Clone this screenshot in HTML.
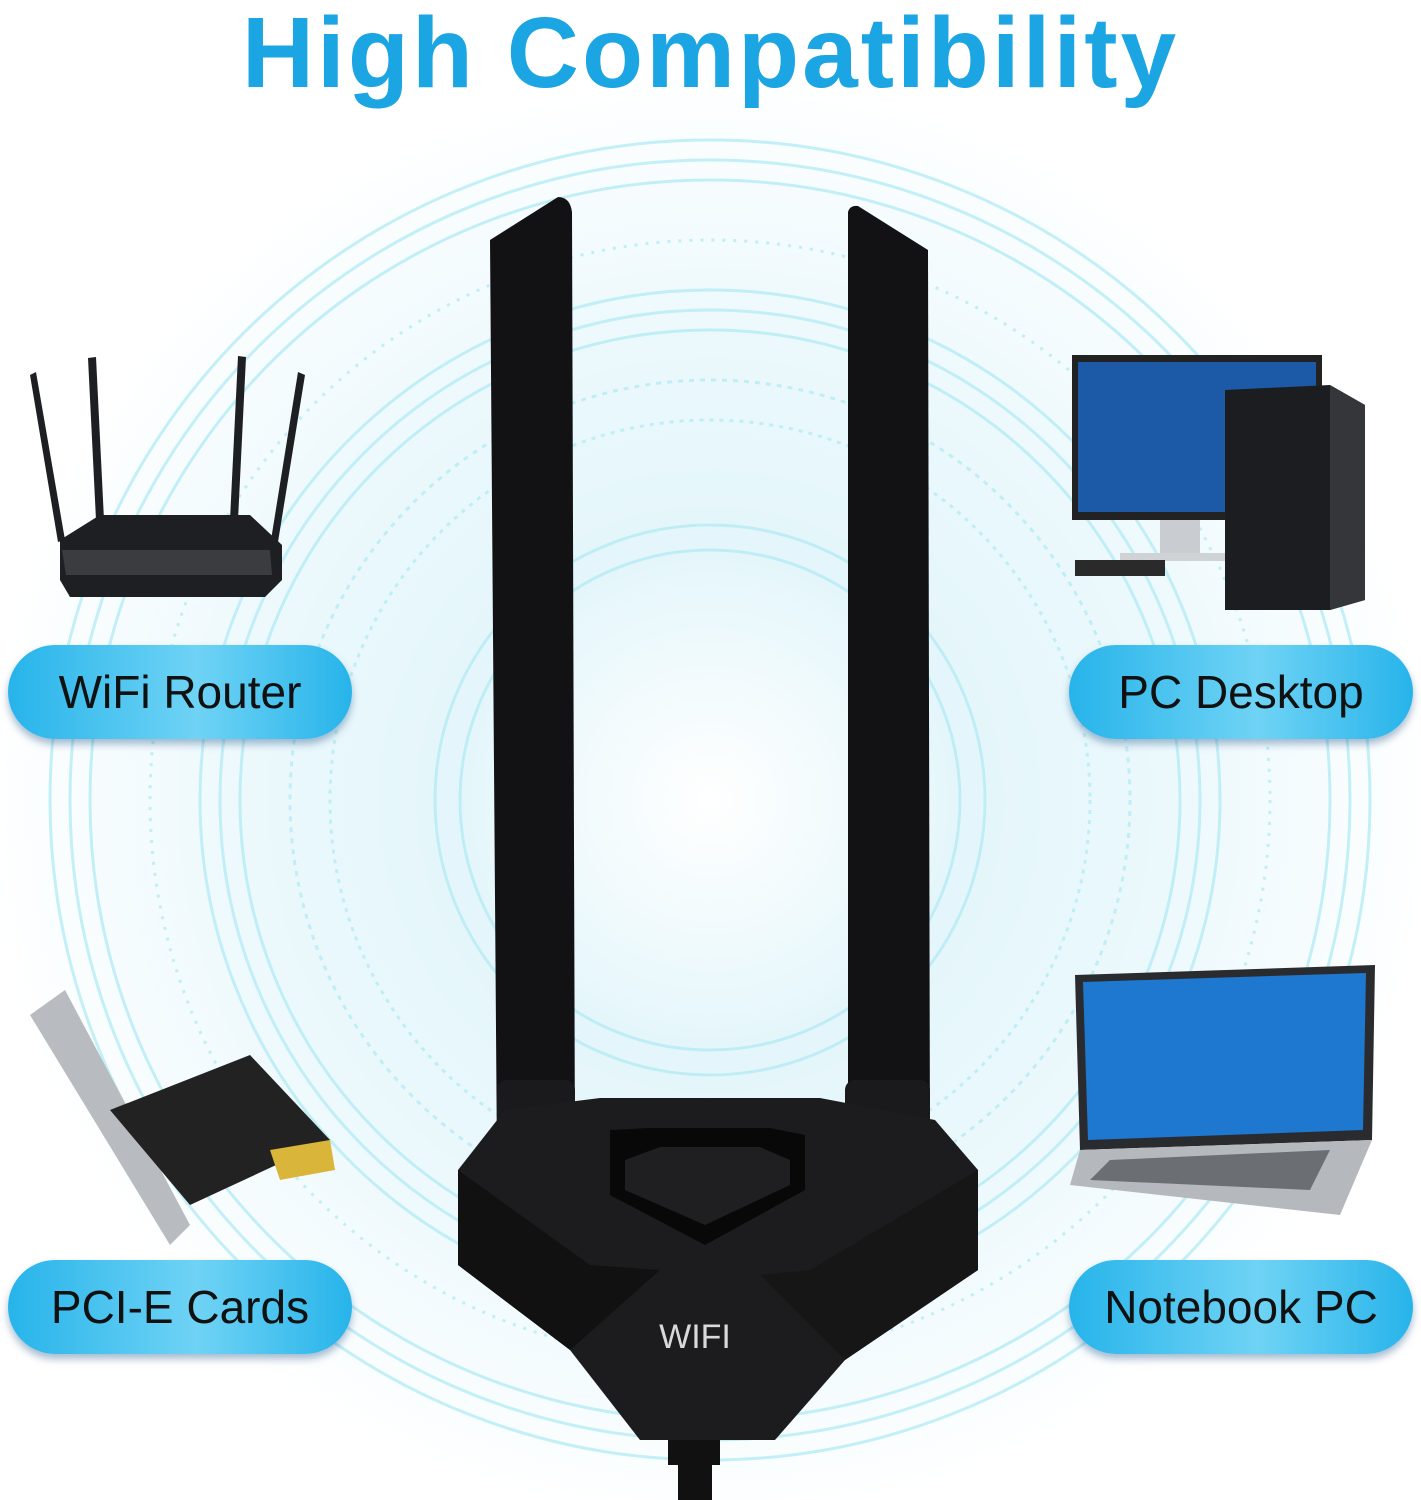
<!DOCTYPE html>
<html><head><meta charset="utf-8"><style>
html,body{margin:0;padding:0;background:#fff}
body{width:1421px;height:1500px;overflow:hidden;position:relative;font-family:"Liberation Sans",sans-serif}
svg{position:absolute;left:0;top:0}
.t{position:absolute;left:0;width:1421px;top:-4px;text-align:center;font-weight:bold;font-size:100px;color:#1ba5e2;letter-spacing:3px}
.pill{position:absolute;width:344px;height:94px;border-radius:47px;background:linear-gradient(90deg,#27b4ea,#6fd3f5 55%,#27b4ea);box-shadow:0 5px 8px rgba(0,60,120,.35);font-size:46px;line-height:94px;text-align:center;color:#111}
</style></head><body>
<svg width="1421" height="1500" viewBox="0 0 1421 1500">
<defs>
<radialGradient id="rg" cx="710" cy="800" r="720" gradientUnits="userSpaceOnUse">
<stop offset="0" stop-color="#fff"/>
<stop offset="0.35" stop-color="#e4f6fb"/>
<stop offset="0.6" stop-color="#eaf8fc"/>
<stop offset="0.85" stop-color="#f6fcfe"/>
<stop offset="1" stop-color="#fff"/>
</radialGradient>
</defs>
<rect width="1421" height="1500" fill="#fff"/>
<circle cx="710" cy="800" r="720" fill="url(#rg)"/>
<g fill="none" stroke="#b6ecf6" stroke-width="3" opacity=".8">
<circle cx="710" cy="800" r="250"/><circle cx="710" cy="800" r="275"/>
<circle cx="710" cy="800" r="380" stroke-dasharray="4 6"/><circle cx="710" cy="800" r="420" stroke-dasharray="5 6"/>
<circle cx="710" cy="800" r="470"/><circle cx="710" cy="800" r="490"/><circle cx="710" cy="800" r="510"/>
<circle cx="710" cy="800" r="560" stroke-dasharray="3 8"/><circle cx="710" cy="800" r="620"/><circle cx="710" cy="800" r="640"/><circle cx="710" cy="800" r="660"/>
</g>
<g fill="#1e1f22">
<polygon points="30,375 36,372 65,540 58,542"/>
<polygon points="88,358 96,357 104,520 96,520"/>
<polygon points="238,356 246,357 238,520 230,520"/>
<polygon points="298,372 305,375 278,542 271,540"/>
<polygon points="60,540 100,515 250,515 282,545 282,580 265,597 70,597 60,580"/>
</g>
<polygon points="62,550 270,550 272,575 66,575" fill="#3a3c40"/>
<rect x="1072" y="355" width="250" height="165" fill="#222"/>
<rect x="1078" y="362" width="238" height="150" fill="#1c5aa8"/>
<rect x="1160" y="520" width="40" height="35" fill="#c9ccd0"/>
<rect x="1120" y="553" width="110" height="8" fill="#d0d3d6"/>
<rect x="1075" y="560" width="90" height="16" fill="#2a2a2a"/>
<polygon points="1225,390 1330,385 1365,405 1365,600 1330,610 1225,610" fill="#1c1d20"/>
<polygon points="1330,385 1365,405 1365,600 1330,610" fill="#34363a"/>
<polygon points="30,1015 65,990 190,1225 170,1245" fill="#b8bcc0"/>
<polygon points="110,1110 250,1055 330,1140 190,1205" fill="#222"/>
<polygon points="270,1150 330,1140 335,1170 280,1180" fill="#d9b53a"/>
<polygon points="1075,975 1375,965 1372,1140 1080,1150" fill="#2a2b2f"/>
<polygon points="1083,982 1366,973 1363,1130 1088,1140" fill="#1f78d0"/>
<polygon points="1080,1150 1372,1140 1340,1215 1070,1185" fill="#b5b8bd"/>
<polygon points="1110,1160 1330,1150 1310,1190 1090,1180" fill="#6b6e73"/>
<path d="M490,240 L558,197 Q570,197 572,212 L575,1160 L497,1160 Z" fill="#121214"/>
<path d="M848,212 Q850,205 858,206 L928,250 L930,1160 L848,1160 Z" fill="#121214"/>
<rect x="497" y="1080" width="78" height="100" rx="10" fill="#1a1a1c"/>
<rect x="845" y="1080" width="85" height="100" rx="10" fill="#1a1a1c"/>
<polygon points="458,1170 505,1110 600,1098 820,1098 935,1120 978,1170 978,1270 845,1360 775,1440 640,1440 570,1350 458,1265" fill="#1c1c1e"/>
<polygon points="458,1170 590,1265 660,1270 570,1350 458,1265" fill="#111"/>
<polygon points="978,1170 810,1270 760,1275 845,1360 978,1270" fill="#161617"/>
<polygon points="610,1130 650,1128 770,1128 805,1135 805,1190 705,1245 610,1195" fill="#080808"/>
<polygon points="625,1160 660,1147 760,1147 790,1160 790,1185 705,1225 625,1190" fill="#1f1f21"/>
<rect x="668" y="1440" width="52" height="25" fill="#111"/>
<rect x="678" y="1465" width="34" height="35" fill="#111"/>
<text x="695" y="1348" font-family="Liberation Sans" font-size="34" fill="#d9d9d9" text-anchor="middle">WIFI</text>
</svg>
<div class="t">High Compatibility</div>
<div class="pill" style="left:8px;top:645px">WiFi Router</div>
<div class="pill" style="left:1069px;top:645px">PC Desktop</div>
<div class="pill" style="left:8px;top:1260px">PCI-E Cards</div>
<div class="pill" style="left:1069px;top:1260px">Notebook PC</div>
</body></html>
